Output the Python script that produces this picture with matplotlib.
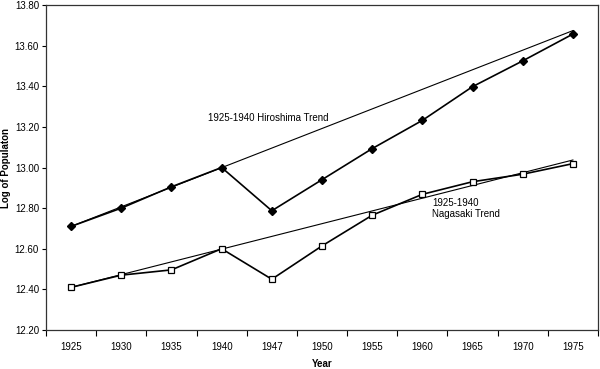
import matplotlib.pyplot as plt
import numpy as np

plt.rcParams['font.family'] = ['Liberation Sans', 'DejaVu Sans']

years = ['1925', '1930', '1935', '1940', '1947', '1950', '1955', '1960', '1965', '1970', '1975']
hiroshima = [12.71, 12.80, 12.905, 13.00, 12.787, 12.94, 13.093, 13.232, 13.398, 13.525, 13.657]
nagasaki = [12.41, 12.47, 12.496, 12.60, 12.45, 12.614, 12.765, 12.868, 12.93, 12.967, 13.019]
# trend lines: value at 1925 and at 1975
hiro_trend = [12.71, 13.674]
naga_trend = [12.41, 13.037]

x = np.arange(len(years))

fig = plt.figure(figsize=(6, 3.69), dpi=100)
ax = fig.add_axes([46/600, 1-330/369, 552/600, 325/369])

ax.plot([x[0], x[-1]], hiro_trend, color='black', lw=0.8)
ax.plot([x[0], x[-1]], naga_trend, color='black', lw=0.8)
ax.plot(x, hiroshima, color='black', lw=1.2, marker='D', ms=4.3, mfc='black', mec='black')
ax.plot(x, nagasaki, color='black', lw=1.2, marker='s', ms=4.8, mfc='white', mec='black', mew=0.9)

ax.text(2.72, 13.244, '1925-1940 Hiroshima Trend', fontsize=7, va='center', ha='left')
ax.text(7.19, 12.80, '1925-1940\nNagasaki Trend', fontsize=7, va='center', ha='left', linespacing=1.1)

ax.set_xlim(-0.5, len(years) - 0.5)
ax.set_ylim(12.2, 13.8)
ax.set_yticks(np.arange(12.2, 13.81, 0.2))
ax.yaxis.set_major_formatter(plt.FuncFormatter(lambda v, _: '{:.2f}'.format(v)))
ax.set_xticks(x)
ax.set_xticklabels(years)
ax.set_xticks(np.arange(-0.5, len(years), 1), minor=True)
ax.tick_params(axis='x', which='major', length=0, labelsize=7, pad=9)
ax.tick_params(axis='x', which='minor', length=4, width=0.8, direction='out')
ax.tick_params(axis='y', length=3, width=0.8, labelsize=7, pad=2)
for s in ax.spines.values():
    s.set_linewidth(0.9)
    s.set_color('#333333')

ax.set_xlabel('Year', fontsize=7, fontweight='bold', labelpad=5)
fig.text(6/600, 1-168/369, 'Log of Populaton', fontsize=7, fontweight='bold',
         rotation=90, ha='center', va='center')

plt.savefig('out.png', dpi=100)
